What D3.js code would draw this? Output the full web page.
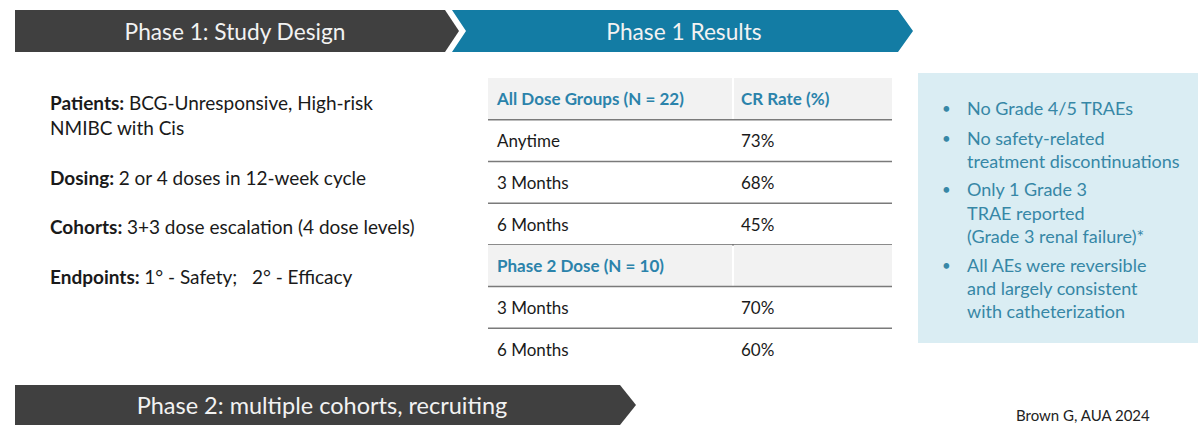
<!DOCTYPE html>
<html><head><meta charset="utf-8">
<script src="https://cdn.jsdelivr.net/npm/d3@7/dist/d3.min.js"></script>
<style>body{margin:0;background:#fff}svg{display:block}text{font-family:Lato,"Open Sans",sans-serif;white-space:pre}</style>
</head><body><svg id="c" width="1200" height="437"></svg>
<script>
const banners = ["Phase 1: Study Design", "Phase 1 Results", "Phase 2: multiple cohorts, recruiting"];
const designLabels = ["Patients:", "Dosing:", "Cohorts:", "Endpoints:"];
const designTexts = [["BCG-Unresponsive, High-risk", "NMIBC with Cis"], ["2 or 4 doses in 12-week cycle"], ["3+3 dose escalation (4 dose levels)"], ["1\u00B0 - Safety;   2\u00B0 - Efficacy"]];
const rowLabels = ["All Dose Groups (N = 22)", "Anytime", "3 Months", "6 Months", "Phase 2 Dose (N = 10)", "3 Months", "6 Months"];
const rowIsHeader = [true, false, false, false, true, false, false];
const crRates = [null, 73, 68, 45, null, 70, 60];
const colHeader = "CR Rate (%)";
const bullets = [["No Grade 4/5 TRAEs"], ["No safety-related", "treatment discontinuations"], ["Only 1 Grade 3", "TRAE reported", "(Grade 3 renal failure)*"], ["All AEs were reversible", "and largely consistent", "with catheterization"]];
const citation = "Brown G, AUA 2024";

const svg = d3.select("#c");
const dark = "#404040", blue = "#137ca4", teal = "#2b83ab";

function chevron(x0, x1, y0, y1, tip, notch) {
  const ym = (y0 + y1) / 2;
  const p = [[x0, y0], [x1, y0], [x1 + tip, ym], [x1, y1], [x0, y1]];
  if (notch) p.push([x0 + notch, ym]);
  return "M" + p.map(d => d.join(",")).join("L") + "Z";
}
svg.append("path").attr("d", chevron(15, 445, 10, 52, 14, 0)).attr("fill", dark);
svg.append("path").attr("d", chevron(452, 898, 10, 52, 15, 14)).attr("fill", blue);
svg.append("path").attr("d", chevron(15, 620, 385, 425, 16, 0)).attr("fill", dark);
const bannerPos = [[235, 31], [684, 31], [322, 405]];
svg.selectAll("text.banner").data(banners).join("text").attr("class", "banner")
  .attr("x", (d, i) => bannerPos[i][0]).attr("y", (d, i) => bannerPos[i][1])
  .attr("text-anchor", "middle").attr("dominant-baseline", "central")
  .attr("fill", "#f2f2f2").attr("font-size", (d, i) => i === 2 ? 23.5 : 22.7).text(d => d);

const designY = [[102, 127], [177], [226], [276]];
designLabels.forEach((lab, i) => {
  designTexts[i].forEach((t, j) => {
    const tx = svg.append("text").attr("x", 50).attr("y", designY[i][j]).attr("dominant-baseline", "central")
      .attr("font-size", 19).attr("fill", "#1a1a1a");
    if (j === 0) { tx.append("tspan").attr("font-weight", "bold").text(lab + " "); }
    tx.append("tspan").text(t);
  });
});

const y = d3.scaleBand().domain(d3.range(rowLabels.length)).range([78, 370]);
const colX = [488, 733, 892];
const g = svg.append("g");
rowLabels.forEach((lab, i) => {
  if (rowIsHeader[i]) {
    g.append("rect").attr("x", colX[0]).attr("y", y(i)).attr("width", colX[1] - colX[0] - 1).attr("height", y.bandwidth()).attr("fill", "#f2f2f2");
    g.append("rect").attr("x", colX[1] + 1).attr("y", y(i)).attr("width", colX[2] - colX[1] - 1).attr("height", y.bandwidth()).attr("fill", "#f2f2f2");
  }
  g.append("text").attr("x", 497).attr("y", y(i) + y.bandwidth() / 2).attr("dominant-baseline", "central")
    .attr("font-size", 17).attr("fill", rowIsHeader[i] ? teal : "#1a1a1a").attr("font-weight", rowIsHeader[i] ? "bold" : "normal").text(lab);
  const v = i === 0 ? colHeader : (crRates[i] == null ? "" : crRates[i] + "%");
  g.append("text").attr("x", 741).attr("y", y(i) + y.bandwidth() / 2).attr("dominant-baseline", "central")
    .attr("font-size", 17).attr("fill", rowIsHeader[i] ? teal : "#1a1a1a").attr("font-weight", rowIsHeader[i] ? "bold" : "normal").text(v);
  if (i < rowLabels.length - 1) {
    g.append("line").attr("x1", colX[0]).attr("x2", colX[2]).attr("y1", y(i) + y.bandwidth()).attr("y2", y(i) + y.bandwidth())
      .attr("stroke", "#7a7a7a").attr("stroke-width", 1.5);
  }
});

svg.append("rect").attr("x", 918).attr("y", 73).attr("width", 280).attr("height", 270).attr("fill", "#daedf3");
const lineY = [[108], [138, 161], [189, 213, 236], [265, 288, 311]];
bullets.forEach((b, i) => {
  svg.append("text").attr("x", 942).attr("y", lineY[i][0]).attr("dominant-baseline", "central").attr("font-size", 15).attr("fill", "#3687a6").text("\u2022");
  b.forEach((t, j) => {
    svg.append("text").attr("x", 967).attr("y", lineY[i][j]).attr("dominant-baseline", "central")
      .attr("font-size", 18).attr("fill", "#3687a6").text(t);
  });
});

svg.append("text").attr("x", 1016).attr("y", 415).attr("dominant-baseline", "central").attr("font-size", 15).attr("fill", "#222").text(citation);
</script></body></html>
